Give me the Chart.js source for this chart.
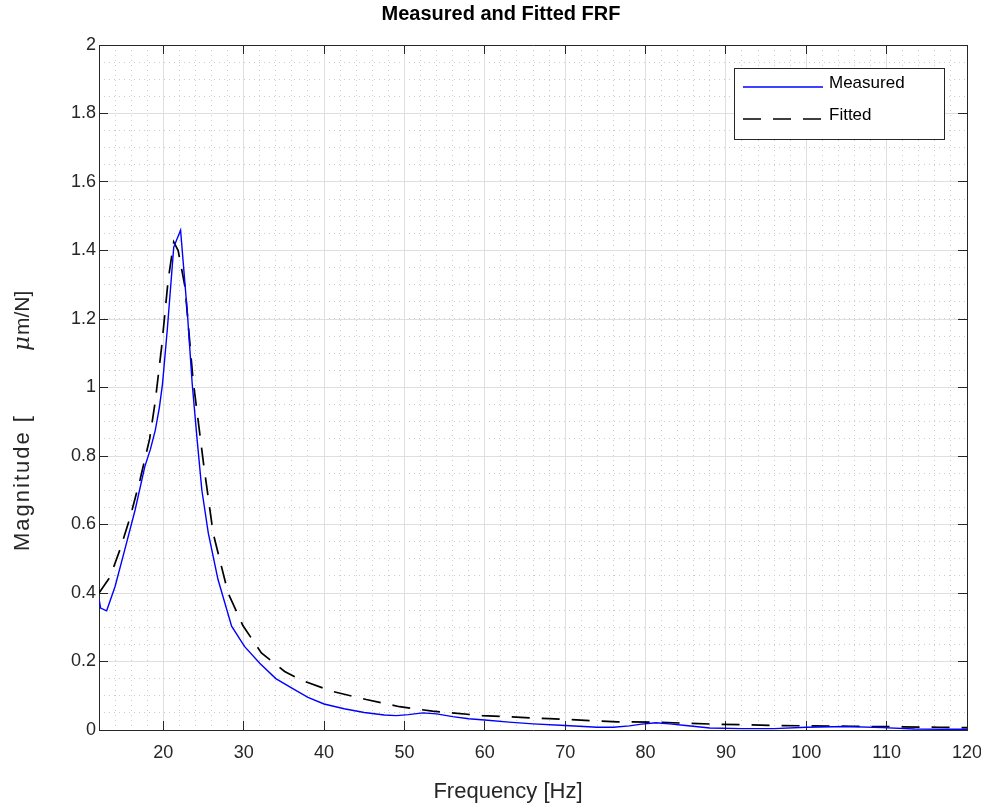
<!DOCTYPE html>
<html>
<head>
<meta charset="utf-8">
<script src="https://cdn.jsdelivr.net/npm/chart.js@4.4.0/dist/chart.umd.min.js"></script>
<style>
  html, body { margin: 0; padding: 0; background: #fff; }
  #wrap { width: 981px; height: 810px; }
</style>
</head>
<body>
<div id="wrap"><canvas id="chart" width="981" height="810"></canvas></div>
<script>
// Values
const MEASURED_FREQ = [12, 12.2, 12.95, 14, 15.2, 16.5, 17.7, 18.4, 19.0, 19.5, 19.9, 20.5, 21.3, 22.15, 23.0, 23.6,
  24.2, 24.8, 25.6, 26.8, 28.5, 30.1, 32, 34, 36, 38, 40, 42.5, 45, 47.5, 49, 50.5, 52.3, 54, 56, 58,
  60, 63, 66, 70, 74, 76, 78, 79.5, 81.3, 83, 85, 88, 92, 96, 100, 105, 109.5, 113.5, 117, 120];
const MEASURED_MAG = [0.383, 0.356, 0.348, 0.419, 0.526, 0.643, 0.769, 0.82, 0.875, 0.94, 1.01, 1.17, 1.41, 1.459, 1.216, 1.01,
  0.85, 0.70, 0.575, 0.44, 0.303, 0.244, 0.195, 0.15, 0.122, 0.095, 0.076, 0.062, 0.051, 0.044, 0.042, 0.045, 0.050, 0.047, 0.039, 0.033,
  0.029, 0.023, 0.018, 0.013, 0.008, 0.008, 0.012, 0.017, 0.021, 0.018, 0.013, 0.006, 0.004, 0.004, 0.008, 0.010, 0.007, 0.003, 0.002, 0.002];

const FITTED_FREQ = [12, 13.4, 14.6, 15.85, 17.1, 18.3, 19.0, 19.8, 20.6, 21.3, 21.85, 22.7, 23.7, 25.0, 26.2,
  28.06, 29.9, 32.2, 35.1, 37, 41, 45.25, 49.4, 53.5, 59.7, 68, 76.5, 81, 88.7, 97, 105.3, 116.5, 120];
const FITTED_MAG = [0.40, 0.448, 0.526, 0.619, 0.73, 0.85, 0.96, 1.12, 1.313, 1.425, 1.40, 1.294, 1.022, 0.779, 0.575,
  0.40, 0.305, 0.225, 0.171, 0.147, 0.113, 0.089, 0.068, 0.055, 0.042, 0.033, 0.024, 0.023, 0.017, 0.013, 0.011, 0.008, 0.007];

const X_TICKS = [20, 30, 40, 50, 60, 70, 80, 90, 100, 110, 120];
const Y_TICKS = [0, 0.2, 0.4, 0.6, 0.8, 1, 1.2, 1.4, 1.6, 1.8, 2];
const Y_TICK_LABELS = ['0', '0.2', '0.4', '0.6', '0.8', '1', '1.2', '1.4', '1.6', '1.8', '2'];

const TITLE = 'Measured and Fitted FRF';
const X_LABEL = 'Frequency [Hz]';
const SERIES_NAMES = ['Measured', 'Fitted'];

const FONT = '"Liberation Sans", Arial, Helvetica, sans-serif';
const INK = '#262626';

const toPoints = (xs, ys) => xs.map((x, i) => ({ x, y: ys[i] }));

// minor grid positions (MATLAB-style dotted minor grid)
const minorX = () => { const t = []; for (let v = 12; v <= 120; v += 2) t.push({ value: v }); return t; };
const minorY = () => { const t = []; for (let i = 0; i <= 40; i++) t.push({ value: i * 0.05 }); return t; };

// Title, axis labels and the boxed legend, drawn MATLAB-style
const decorPlugin = {
  id: 'decor',
  afterDraw(chart) {
    const { ctx } = chart;
    ctx.save();
    ctx.fillStyle = '#000';
    ctx.textAlign = 'center';
    ctx.textBaseline = 'middle';
    ctx.font = 'bold 20px ' + FONT;
    ctx.fillText(TITLE, 501, 14);

    ctx.fillStyle = INK;
    ctx.font = '22px ' + FONT;
    ctx.fillText(X_LABEL, 508, 792);

    // y label with the TeX-style gap before mu
    ctx.save();
    ctx.translate(23, 551);
    ctx.rotate(-Math.PI / 2);
    ctx.textAlign = 'left';
    ctx.font = '22px ' + FONT;
    ctx.letterSpacing = '2px';
    ctx.fillText('Magnitude [', 0, 0);
    ctx.letterSpacing = '0px';
    ctx.font = 'italic 23px "DejaVu Serif", serif';
    ctx.fillText('\u03bc', 200, 0);
    const muW = ctx.measureText('\u03bc').width;
    ctx.font = '21px ' + FONT;
    ctx.fillText('m/N]', 200 + muW + 1, 0);
    ctx.restore();

    // legend box
    const L = { x: 734.5, y: 68.5, w: 210, h: 71 };
    ctx.fillStyle = '#fff';
    ctx.fillRect(L.x, L.y, L.w, L.h);
    ctx.strokeStyle = INK;
    ctx.lineWidth = 1;
    ctx.strokeRect(L.x, L.y, L.w, L.h);
    chart.data.datasets.forEach((ds, i) => {
      const y = 87 + i * 32;
      ctx.save();
      ctx.strokeStyle = ds.borderColor;
      ctx.lineWidth = ds.borderWidth;
      ctx.setLineDash(ds.borderDash || []);
      ctx.beginPath();
      ctx.moveTo(743, y);
      ctx.lineTo(823, y);
      ctx.stroke();
      ctx.restore();
      ctx.fillStyle = '#000';
      ctx.textAlign = 'left';
      ctx.font = '17px ' + FONT;
      ctx.fillText(ds.label, 829, y - 4);
    });
    ctx.restore();
  },
};

const majorGrid = { color: '#dfdfdf', lineWidth: 1, tickColor: INK, tickLength: -9, tickWidth: 1 };
const axisBorder = { color: INK, width: 1 };
const noSidePadding = s => { s.paddingLeft = 0; s.paddingRight = 0; };

new Chart(document.getElementById('chart'), {
  type: 'line',
  data: {
    datasets: [
      {
        label: SERIES_NAMES[0],
        data: toPoints(MEASURED_FREQ, MEASURED_MAG),
        borderColor: '#0000ff',
        borderWidth: 1.4,
        pointRadius: 0,
        tension: 0,
        fill: false,
      },
      {
        label: SERIES_NAMES[1],
        data: toPoints(FITTED_FREQ, FITTED_MAG),
        borderColor: '#000000',
        borderWidth: 1.7,
        borderDash: [18, 12],
        pointRadius: 0,
        tension: 0,
        fill: false,
      },
    ],
  },
  plugins: [decorPlugin],
  options: {
    responsive: false,
    animation: false,
    events: [],
    layout: { padding: { top: 45, right: 14, bottom: 0, left: 0 } },
    plugins: { legend: { display: false }, title: { display: false }, tooltip: { enabled: false } },
    scales: {
      xMinor: {
        type: 'linear', position: 'bottom', min: 12, max: 120,
        afterBuildTicks: s => { s.ticks = minorX(); },
        afterFit: s => { s.height = 0; noSidePadding(s); },
        ticks: { display: false },
        grid: { color: '#cccccc', lineWidth: 1, drawTicks: false },
        border: { display: false, dash: [1, 4] },
      },
      yMinor: {
        type: 'linear', position: 'left', min: 0, max: 2,
        afterBuildTicks: s => { s.ticks = minorY(); },
        afterFit: s => { s.width = 0; },
        ticks: { display: false },
        grid: { color: '#cccccc', lineWidth: 1, drawTicks: false },
        border: { display: false, dash: [1, 4] },
      },
      x: {
        type: 'linear', position: 'bottom', min: 12, max: 120,
        afterBuildTicks: s => { s.ticks = X_TICKS.map(v => ({ value: v })); },
        afterFit: s => { s.height = 80; noSidePadding(s); },
        ticks: {
          autoSkip: false, maxRotation: 0, padding: 21,
          color: INK, font: { family: FONT, size: 18 },
        },
        grid: majorGrid,
        border: axisBorder,
      },
      y: {
        type: 'linear', position: 'left', min: 0, max: 2,
        afterBuildTicks: s => { s.ticks = Y_TICKS.map(v => ({ value: v })); },
        afterFit: s => { s.width = 99; },
        ticks: {
          autoSkip: false, padding: 12,
          color: INK, font: { family: FONT, size: 18 },
          callback: (v, i) => Y_TICK_LABELS[i],
        },
        grid: majorGrid,
        border: axisBorder,
      },
      xTop: {
        type: 'linear', position: 'top', min: 12, max: 120,
        afterBuildTicks: s => { s.ticks = X_TICKS.map(v => ({ value: v })); },
        afterFit: s => { s.height = 0; noSidePadding(s); },
        ticks: { display: false },
        grid: { drawOnChartArea: false, tickColor: INK, tickLength: -9, tickWidth: 1 },
        border: axisBorder,
      },
      yRight: {
        type: 'linear', position: 'right', min: 0, max: 2,
        afterBuildTicks: s => { s.ticks = Y_TICKS.map(v => ({ value: v })); },
        afterFit: s => { s.width = 0; },
        ticks: { display: false },
        grid: { drawOnChartArea: false, tickColor: INK, tickLength: -9, tickWidth: 1 },
        border: axisBorder,
      },
    },
  },
});
</script>
</body>
</html>
